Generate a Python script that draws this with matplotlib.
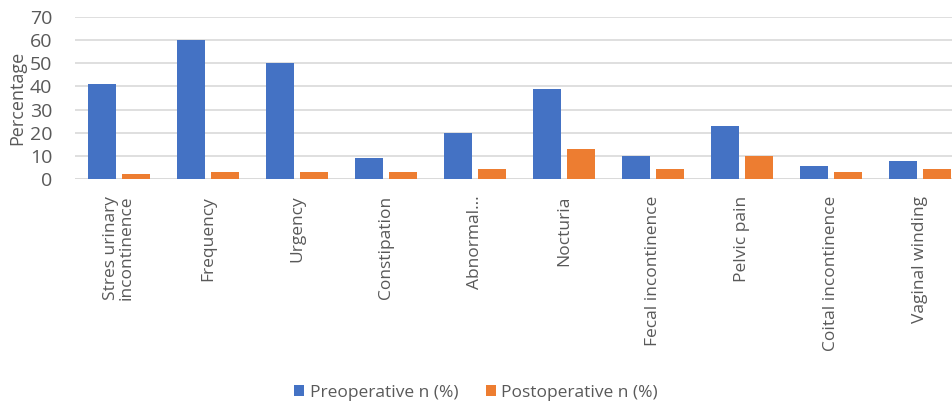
import matplotlib.pyplot as plt
import numpy as np

categories = ['Stres urinary\nincontinence', 'Frequency', 'Urgency', 'Constipation',
              'Abnormal...', 'Nocturia', 'Fecal incontinence', 'Pelvic pain',
              'Coital incontinence', 'Vaginal winding']
preop = [41, 60, 50, 9, 20, 39, 10, 23, 5.6, 7.6]
postop = [2, 3, 3, 3, 4.3, 13, 4.3, 10, 3.2, 4.3]
yticks = [0, 10, 20, 30, 40, 50, 60, 70]

plt.rcParams['font.family'] = ['Open Sans', 'DejaVu Sans']
grey = '#595959'

fig = plt.figure(figsize=(9.52, 4.03), dpi=100)
# right edge of the plot area runs past the image, as in the reference crop
ax = fig.add_axes([0.0783, 0.5558, 0.935, 0.402])

x = np.arange(len(categories))
w = 0.315
ax.bar(x - 0.19, preop, w, color='#4472C4', label='Preoperative n (%)', zorder=3)
ax.bar(x + 0.19, postop, w, color='#ED7D31', label='Postoperative n (%)', zorder=3)

ax.set_xlim(-0.5, len(categories) - 0.5)
ax.set_ylim(0, 70)
ax.set_yticks(yticks)
ax.yaxis.grid(True, color='#D9D9D9', linewidth=1.2, zorder=0)
for s in ax.spines.values():
    s.set_visible(False)
ax.axhline(0, color='#D9D9D9', linewidth=1.2, zorder=1)

ax.set_xticks(x)
ax.set_xticklabels(categories, rotation=90, va='top', ha='center',
                   fontsize=12.5, color=grey, linespacing=0.95)
ax.tick_params(axis='both', length=0)
ax.tick_params(axis='x', pad=12)
ax.tick_params(axis='y', labelsize=14, labelcolor=grey, pad=16)
ax.set_ylabel('Percentage', fontsize=13, color=grey)
ax.yaxis.set_label_coords(-0.0545, 0.5)

fig.legend(loc='center', bbox_to_anchor=(0.5, 0.025), ncol=2, frameon=False,
           fontsize=12.5, handlelength=0.6, handleheight=0.6, handletextpad=0.3,
           columnspacing=1.6, labelcolor=grey)

fig.savefig('out.png', dpi=100)
